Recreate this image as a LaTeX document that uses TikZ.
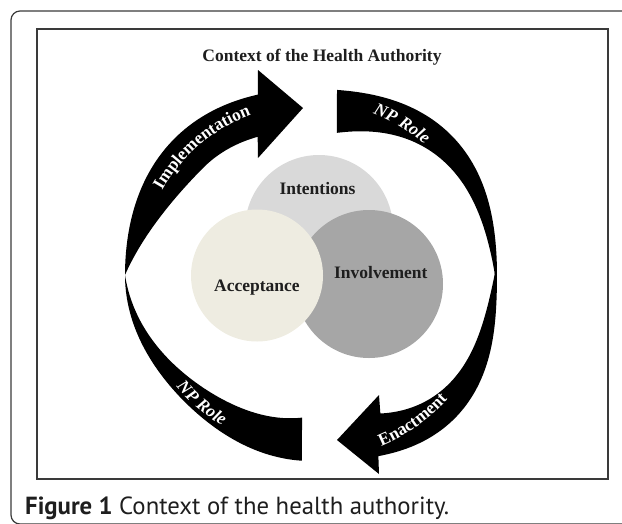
\documentclass[tikz,border=0pt]{standalone}
\usepackage{graphicx}
\usepackage{fontspec}
\setmainfont{Liberation Serif}
\newfontfamily\capfont{PT Sans}
\usetikzlibrary{decorations.text}
\definecolor{intentc}{HTML}{D9D9D9}
\definecolor{involvc}{HTML}{A6A6A6}
\definecolor{acceptc}{HTML}{EEECE1}
\definecolor{labelc}{HTML}{1E1E1E}
\definecolor{framec}{HTML}{3A3A3A}
\newcommand\arcfontA{\color{white}\bfseries\fontsize{17.5}{20}\selectfont}
\newcommand\arcfontI{\color{white}\bfseries\itshape\fontsize{17.5}{20}\selectfont}
\begin{document}
\begin{tikzpicture}[x=1pt,y=-1pt,
  bubble/.style={circle, inner sep=0pt, draw=none},
  bubblelabel/.style={anchor=base, inner sep=0pt, text=labelc, font=\bfseries\fontsize{17.5}{20}\selectfont},
  arrowfill/.style={fill=black},
  frameline/.style={draw=framec, line width=1.2pt},
  boxline/.style={draw=framec, line width=2pt},
  ]
\useasboundingbox (0,0) rectangle (622,523);
\clip (0,0) rectangle (622,523);
\def\cx{311}\def\cy{275}
% frames
\draw[frameline, rounded corners=9pt] (11,11) rectangle (660,524);
\draw[boxline] (37,29) rectangle (608,479);
% title
\node[anchor=base, inner sep=0pt, text=labelc, font=\bfseries\fontsize{17.5}{20}\selectfont] (title) at (322,61.5) {Context of the Health Authority};
% circles
\node[bubble, fill=intentc, minimum size=148pt] (intent) at (319,229) {};
\node[bubble, fill=involvc, minimum size=148pt] (involv) at (369,284) {};
\node[bubble, fill=acceptc, minimum size=132pt] (accept) at (257,275.5) {};
\node[bubblelabel] (intentlbl) at (317.5,194) {Intentions};
\node[bubblelabel] (involvlbl) at (380.8,278.5) {Involvement};
\node[bubblelabel] (acceptlbl) at (257,291.5) {Acceptance};
% arrow A: Implementation (upper left)
\fill[arrowfill] plot[variable=\t, domain=180:253.6, samples=70]
    ({\cx+(186+7*sin(2*\t)*sin(2*\t))*cos(\t)},{\cy+(186+7*sin(2*\t)*sin(2*\t))*sin(\t)})
  -- (258,70) -- (303,108) -- (258,158)
  -- plot[variable=\t, domain=248.9:180, samples=70]
    ({\cx+(186+7*sin(2*\t)*sin(2*\t)-41*sin(min(90,2*(\t-180))))*cos(\t)},{\cy+(186+7*sin(2*\t)*sin(2*\t)-41*sin(min(90,2*(\t-180))))*sin(\t)})
  -- cycle;
% arrow B: NP Role (lower left)
\fill[arrowfill] plot[variable=\t, domain=180:92.8, samples=70]
    ({\cx+(186-7*sin(2*\t)*sin(2*\t))*cos(\t)},{\cy+(186-7*sin(2*\t)*sin(2*\t))*sin(\t)})
  -- plot[variable=\t, domain=93.6:180, samples=70]
    ({\cx+(186-7*sin(2*\t)*sin(2*\t)-43*(180-\t)/86.4)*cos(\t)},{\cy+(186-7*sin(2*\t)*sin(2*\t)-43*(180-\t)/86.4)*sin(\t)})
  -- cycle;
% arrow C: NP Role (upper right)
\fill[arrowfill] plot[variable=\t, domain=278:364, samples=70]
    ({\cx+(186+12*sin(2*\t)*sin(2*\t))*cos(\t)},{\cy+(186+12*sin(2*\t)*sin(2*\t))*sin(\t)})
  -- plot[variable=\t, domain=364:280.3, samples=70]
    ({\cx+(186+12*sin(2*\t)*sin(2*\t)-43*(364-\t)/83.7)*cos(\t)},{\cy+(186+12*sin(2*\t)*sin(2*\t)-43*(364-\t)/83.7)*sin(\t)})
  -- cycle;
% arrow D: Enactment (lower right)
\fill[arrowfill] plot[variable=\t, domain=-4:69.6, samples=70]
    ({\cx+(186+17*sin(2*\t)*sin(2*\t))*cos(\t)},{\cy+(186+17*sin(2*\t)*sin(2*\t))*sin(\t)})
  -- (379,474) -- (337,440) -- (379,395)
  -- plot[variable=\t, domain=63.4:-4, samples=70]
    ({\cx+(186+17*sin(2*\t)*sin(2*\t)-42*(\t+4)/67.4)*cos(\t)},{\cy+(186+17*sin(2*\t)*sin(2*\t)-42*(\t+4)/67.4)*sin(\t)})
  -- cycle;
% arrow texts
\path[decorate, decoration={text along path, text align=center, text={|\arcfontA|Implementation}}]
  plot[variable=\t, domain=205:254, samples=60] ({\cx+171*cos(\t)},{\cy+171*sin(\t)});
\path[decorate, decoration={text along path, text align=center, text={|\arcfontI|NP Role}}]
  plot[variable=\t, domain=281:321, samples=60] ({\cx+173*cos(\t)},{\cy+173*sin(\t)});
\path[decorate, decoration={text along path, text align=center, text={|\arcfontI|NP Role}}]
  plot[variable=\t, domain=150.4:110.4, samples=60] ({\cx+175*cos(\t)},{\cy+175*sin(\t)});
\path[decorate, decoration={text along path, text align=center, text={|\arcfontA|Enactment}}]
  plot[variable=\t, domain=75:35, samples=60] ({\cx+185*cos(\t)},{\cy+185*sin(\t)});
% caption
\node[anchor=base west, inner sep=0pt, text=labelc] (caption) at (25,514) {\resizebox{424pt}{!}{\capfont\textbf{Figure 1} Context of the health authority.}};
\end{tikzpicture}
\end{document}
